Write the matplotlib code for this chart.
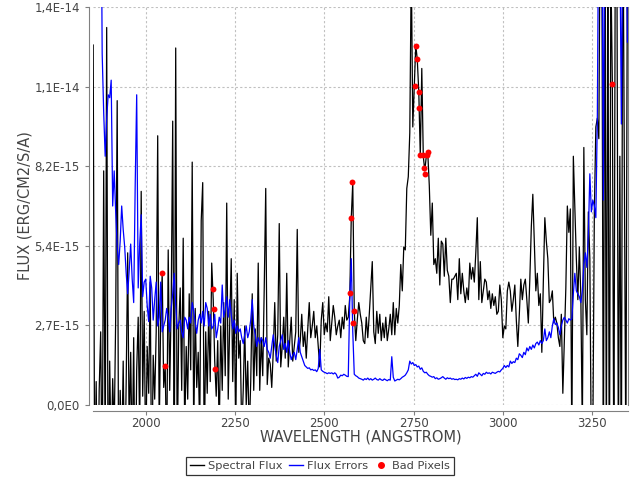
import numpy as np
import matplotlib
matplotlib.use("Agg")
import matplotlib.pyplot as plt
from matplotlib.lines import Line2D

# wavelength grid (Angstrom): start and step of the sampled spectrum
wave_start = 1853.0
wave_step = 4.2

# Spectral flux, units of 1e-15 erg/cm2/s/A
flux = [
    12.3, -3, 0.8, -4, 0.5, 2.5, -3, 8.0, -2, 12.9,
    -4, 1.5, -2, 0.9, -1, 3.0, 10.4, -3, 0.5, -2,
    1.5, -3, 0.8, 5.2, -1, 1.8, -2, 2.3, -4, 1.2,
    3.0, -1, 7.3, 0.3, 3.2, -2, 2.0, 0.4, 4.2, -3,
    1.7, 0.2, 2.5, 9.2, -1, 3.0, 4.5, 0.6, 1.33, -2,
    5.3, 0.5, 3.5, 9.7, -3, 12.2, -2, 2.6, 4.0, 0.5,
    5.7, -1, 2.0, 0.2, 3.8, 1.2, 8.3, -1, 3.3, 0.6,
    1.8, -1, 6.3, 7.6, -2, 2.5, 0.4, 3.2, 0.8, 4.85,
    3.6, 1.5, 0.3, 2.2, -1, 2.7, 0.5, 3.5, 1.0, 6.9,
    0.2, 2.8, 5.0, 0.8, 3.6, -1, 4.5, 1.6, 2.2, -1,
    0.5, 2.7, 0.0, 1.5, -1, 0.8, 3.8, 0.5, 2.6, 1.0,
    4.85, 0.5, 2.3, 1.0, 4.0, 7.4, 0.7, 1.6, 1.4, 0.6,
    1.8, 3.5, 1.5, 2.4, 6.2, 1.3, 2.0, 3.0, 1.6, 4.5,
    1.3, 2.2, 3.0, 1.5, 2.0, 2.5, 6.0, 1.8, 2.2, 3.1,
    2.0, 2.5, 1.6, 2.6, 3.5, 2.3, 2.7, 3.2, 2.3, 2.7,
    2.0, 1.3, 2.9, 3.5, 2.4, 2.8, 2.5, 3.7, 2.2, 2.8,
    3.4, 3.0, 2.4, 2.7, 2.9, 2.3, 3.0, 2.6, 3.4, 2.9,
    3.0, 3.7, 6.4, 7.6, 3.2, 2.2, 2.9, 3.5, 3.1, 2.8,
    2.2, 2.1, 3.0, 2.3, 3.1, 4.0, 4.9, 2.5, 2.1, 3.2,
    2.45, 3.1, 2.2, 2.8, 2.3, 3.0, 2.2, 2.6, 3.1, 2.4,
    3.5, 2.4, 3.3, 2.8, 3.4, 4.8, 3.9, 5.4, 5.3, 7.4,
    7.8, 9.3, 15.0, 9.5, 10.9, 12.3, 11.8, 10.7, 8.5, 11.5,
    8.5, 8.0, 8.5, 8.6, 7.5, 5.8, 6.9, 4.8, 5.0, 4.5,
    5.7, 4.1, 5.6, 5.5, 4.4, 5.7, 4.6, 4.4, 3.5, 4.3,
    4.3, 4.4, 4.5, 3.6, 5.0, 3.8, 4.5, 3.9, 3.5, 4.0,
    3.6, 4.85, 4.3, 4.7, 4.2, 5.2, 6.4, 3.6, 4.9, 3.5,
    3.9, 4.3, 4.2, 3.6, 3.9, 3.3, 3.8, 3.4, 3.7, 3.1,
    3.2, 4.1, 3.6, 2.3, 2.7, 2.6, 3.9, 4.2, 3.9, 3.2,
    3.6, 4.1, 2.9, 2.0, 3.1, 4.3, 3.6, 4.1, 4.3, 3.6,
    2.8, 4.3, 6.1, 7.2, 5.6, 3.9, 4.5, 3.4, 3.8, 1.8,
    4.2, 6.4, 5.6, 5.0, 3.5, 3.6, 3.9, 2.8, 3.0, 2.8,
    2.3, 2.0, 3.1, 0.4, 2.2, 4.0, 6.8, 5.9, 6.7, -1.5,
    8.5, 6.7, 5.0, 3.6, 5.4, 3.7, -1.0, 8.8, 3.6, 2.4,
    6.6, 5.0, -2, -1, 6.6, 9.5, 9.8, 9.1, 18, 16,
    -3, 17, -2, 16, -4, 15, 11.0, -3, 17, 16,
    -2, 8.5, -3, 18, 8.0, -2, 15,
]

# Flux errors, units of 1e-15 erg/cm2/s/A
flux_err = [
    20, 20, 20, 20, 20, 20, 12.0, 10.0, 8.5, 9.8,
    10.6, 10.5, 11.1, 6.8, 8.0, 6.6, 5.4, 4.8, 5.6, 6.8,
    6.0, 5.4, 4.5, 3.8, 4.6, 5.5, 4.3, 3.5, 7.5, 10.6,
    4.0, 5.5, 6.5, 3.7, 4.2, 4.3, 3.4, 2.85, 4.4, 4.0,
    2.9, 3.6, 4.2, 2.7, 3.0, 4.2, 2.5, 2.7, 2.9, 3.3,
    3.0, 2.5, 3.3, 3.8, 4.5, 3.4, 2.6, 2.8, 2.9, 2.5,
    2.3, 3.0, 2.9, 2.6, 3.0, 2.8, 3.5, 3.2, 2.8, 2.45,
    2.9, 3.1, 2.8, 3.2, 2.7, 3.5, 3.3, 2.7, 3.1, 2.6,
    2.7, 3.1, 2.3, 2.6, 3.0, 2.8, 4.1, 3.0, 3.25, 3.7,
    3.0, 3.6, 3.1, 2.6, 2.9, 2.45, 2.7, 2.5, 2.6, 2.3,
    2.1, 2.4, 2.7, 2.3, 2.5, 2.9, 3.6, 2.7, 2.4, 2.0,
    2.3, 2.1, 2.3, 2.2, 2.0, 2.3, 1.9, 1.8, 1.6, 2.0,
    2.4, 2.0, 1.7, 1.45, 2.0, 2.2, 2.4, 1.9, 2.1, 1.8,
    2.2, 1.8, 1.55, 1.7, 1.8, 1.55, 1.9, 2.3, 1.8, 1.65,
    1.5, 1.35, 1.3, 1.25, 1.27, 1.2, 1.22, 1.18, 1.2, 1.14,
    1.25, 1.9, 1.2, 1.15, 1.12, 1.1, 1.07, 1.1, 1.08, 1.1,
    1.06, 1.1, 1.05, 0.92, 0.95, 1.02, 1.0, 1.05, 1.02, 0.98,
    0.97, 3.6, 5.0, 2.5, 1.05, 1.0, 0.97, 0.92, 0.9, 0.88,
    0.85, 0.9, 0.87, 0.92, 0.86, 0.9, 0.85, 0.88, 0.92, 0.87,
    0.85, 0.9, 0.86, 0.84, 0.89, 0.86, 0.83, 0.87, 0.85, 1.65,
    0.95, 0.82, 0.85, 0.88, 0.86, 0.9, 0.95, 0.98, 1.02, 1.1,
    1.2, 1.5, 1.4, 1.45, 1.35, 1.38, 1.3, 1.33, 1.22, 1.27,
    1.15, 1.1, 1.12, 1.05, 1.0, 0.98, 0.95, 0.97, 0.9, 0.93,
    0.88, 0.9, 0.93, 0.97, 0.92, 0.88, 0.93, 0.9, 0.92, 0.88,
    0.9, 0.87, 0.88, 0.86, 0.9, 0.88, 0.92, 0.89, 0.94, 0.91,
    0.95, 0.93, 0.97, 0.95, 1.0, 1.05, 0.98, 1.1, 1.05, 1.0,
    1.08, 1.05, 1.12, 1.08, 1.1, 1.06, 1.12, 1.1, 1.08, 1.12,
    1.15, 1.13, 1.2, 1.25, 1.35, 1.28, 1.35, 1.3, 1.5, 1.42,
    1.48, 1.45, 1.6, 1.55, 1.75, 1.7, 1.62, 1.8, 1.72, 1.95,
    1.85, 2.0, 1.9, 2.05, 1.95, 2.1, 2.15, 2.05, 2.2, 2.1,
    2.2, 2.6, 2.2, 2.3, 2.5, 2.3, 2.7, 2.95, 2.75, 2.8,
    2.65, 2.4, 2.7, 2.9, 3.0, 2.9, 2.8, 2.95, 2.9, 2.95,
    3.8, 4.5, 3.9, 3.8, 3.7, 3.5, 3.9, 4.8, 5.2, 4.7,
    5.8, 7.9, 6.6, 7.0, 6.8, 6.4, 9.9, 18, 20, 18,
    7.0, 18, 20, 19, 20, 18, 20, 19, 20, 18,
    19, 16, 9.6, 17, 20, 18, 12.4,
]

# Bad pixels (wavelength, flux in 1e-15)
bad_wave = [2046.5, 2054.9, 2189.2, 2192.0, 2194.8,
            2572.7, 2575.5, 2578.3, 2581.1, 2583.9,
            2754.6, 2756.6, 2760.2, 2764.1, 2765.8, 2767.8,
            2777.0, 2779.8, 2782.6, 2786.5, 2789.3, 3305.2]
bad_flux = [4.5, 1.33, 3.96, 3.27, 1.22,
            3.82, 6.38, 7.61, 2.8, 3.2,
            10.9, 12.27, 11.81, 10.7, 10.15, 8.54,
            8.54, 8.09, 7.9, 8.54, 8.63, 10.97]

x_ticks = [2000, 2250, 2500, 2750, 3000, 3250]
y_tick_unit = 2.72e-15
y_tick_labels = ["0,0E0", "2,7E-15", "5,4E-15", "8,2E-15", "1,1E-14", "1,4E-14"]

scale = 1e-15
wave_f = wave_start + wave_step * np.arange(len(flux))
wave_e = wave_start + wave_step * np.arange(len(flux_err))

fig = plt.figure(figsize=(6.4, 4.8), dpi=100)
ax = fig.add_axes([93/640, 1 - 405/480, (628-93)/640, (405-7)/480])

ax.plot(wave_f, np.array(flux) * scale, color="black", lw=0.9, zorder=3)
ax.plot(wave_e, np.array(flux_err) * scale, color="#0000ff", lw=0.9, zorder=4)
ax.scatter(bad_wave, np.array(bad_flux) * scale, s=18, color="#ff0000",
           zorder=5, linewidths=0)

ax.set_xlim(1852.5, 3350)
yticks = [k * y_tick_unit for k in range(len(y_tick_labels))]
ax.set_ylim(0, yticks[-1])
ax.set_xticks(x_ticks)
ax.set_xticklabels([str(v) for v in x_ticks])
ax.set_yticks(yticks)
ax.set_yticklabels(y_tick_labels)

ax.grid(True, color="#c0c0c0", linestyle=(0, (2, 2)), linewidth=0.8)
ax.set_axisbelow(True)

for s in ["left", "bottom"]:
    ax.spines[s].set_color("#808080")
ax.spines["left"].set_position(("outward", 3))
ax.spines["bottom"].set_position(("outward", 4))
ax.spines["top"].set_visible(False)
ax.spines["right"].set_color("#808080")

ax.tick_params(axis="both", colors="#808080", labelcolor="#444444",
               labelsize=8.5, length=3, width=0.8)
ax.tick_params(axis="x", pad=1.5)

ax.set_xlabel("WAVELENGTH (ANGSTROM)", fontsize=10.5, color="#444444", labelpad=0)
ax.set_ylabel("FLUX (ERG/CM2/S/A)", fontsize=10.5, color="#444444", labelpad=1)

handles = [
    Line2D([], [], color="black", lw=1),
    Line2D([], [], color="#0000ff", lw=1),
    Line2D([], [], color="#ff0000", marker="o", ls="none", markersize=4),
]
labels = ["Spectral Flux", "Flux Errors", "Bad Pixels"]
leg = fig.legend(handles, labels, loc="center", bbox_to_anchor=(0.5, 1 - 466/480),
                 ncol=3, frameon=True, fancybox=False, fontsize=8.2,
                 handlelength=1.2, handletextpad=0.35, columnspacing=0.6,
                 borderpad=0.35, borderaxespad=0)
leg.get_frame().set_edgecolor("black")
leg.get_frame().set_linewidth(0.9)
for t in leg.get_texts():
    t.set_color("#444444")

fig.savefig("out.png", dpi=100)
